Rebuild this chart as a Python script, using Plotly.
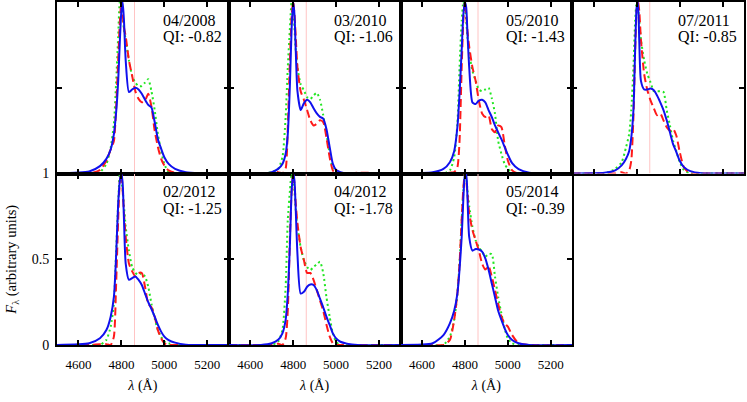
import plotly.graph_objects as go
from plotly.subplots import make_subplots

WL = [4500, 4650, 4700, 4730, 4750, 4765, 4775, 4785, 4793, 4800, 4806, 4812, 4820, 4835, 4850,
      4865, 4880, 4895, 4910, 4925, 4940, 4955, 4970, 4985, 5000, 5020, 5050, 5100, 5300]
HBETA = 4861
DATES = ["04/2008", "03/2010", "05/2010", "07/2011", "02/2012", "04/2012", "05/2014"]
QI = ["-0.82", "-1.06", "-1.43", "-0.85", "-1.25", "-1.78", "-0.39"]
X_TICKS = [4600, 4800, 5000, 5200]
Y_TICKS = [0, 0.5, 1]
Y_TICK_LABELS = ["0", "0.5", "1"]

blue_0408 = [0, 0.012, 0.043, 0.085, 0.14, 0.23, 0.35, 0.54, 0.78, 0.95, 1.0, 0.89, 0.66, 0.475, 0.49, 0.50, 0.49, 0.465, 0.43, 0.40, 0.385, 0.30, 0.20, 0.145, 0.095, 0.056, 0.027, 0.008, 0]
red_0408 = [0, 0, 0.02, 0.075, 0.14, 0.19, 0.37, 0.66, 0.89, 1.0, 0.93, 0.85, 0.80, 0.66, 0.57, 0.48, 0.435, 0.415, 0.425, 0.465, 0.39, 0.25, 0.155, 0.085, 0.047, 0.018, 0.004, 0, 0]
green_0408 = [0, 0, 0.008, 0.056, 0.15, 0.29, 0.52, 0.80, 1.0, 0.97, 0.91, 0.84, 0.78, 0.66, 0.57, 0.53, 0.51, 0.51, 0.53, 0.55, 0.48, 0.37, 0.23, 0.13, 0.056, 0.008, 0, 0, 0]

blue_0310 = [0, 0, 0.008, 0.027, 0.056, 0.115, 0.23, 0.52, 0.85, 1.0, 0.93, 0.72, 0.48, 0.37, 0.41, 0.43, 0.415, 0.38, 0.35, 0.33, 0.32, 0.26, 0.155, 0.056, 0.02, 0.008, 0, 0, 0]
red_0310 = [0, 0, 0.005, 0.008, 0, 0.03, 0.27, 0.66, 0.92, 1.0, 0.93, 0.80, 0.62, 0.48, 0.43, 0.37, 0.31, 0.28, 0.29, 0.31, 0.30, 0.21, 0.095, 0.018, 0, 0, 0, 0.004, 0]
green_0310 = [0, 0, 0.008, 0.027, 0.095, 0.33, 0.62, 0.85, 1.0, 0.97, 0.85, 0.72, 0.62, 0.52, 0.485, 0.445, 0.435, 0.455, 0.47, 0.43, 0.34, 0.23, 0.115, 0.027, 0, 0, 0, 0, 0]

blue_0510 = [0, 0.008, 0.027, 0.066, 0.13, 0.27, 0.465, 0.72, 0.93, 1.0, 0.97, 0.815, 0.62, 0.415, 0.405, 0.425, 0.43, 0.415, 0.37, 0.33, 0.28, 0.24, 0.20, 0.155, 0.11, 0.06, 0.025, 0.005, 0]
red_0510 = [0, 0, 0, 0.005, 0.008, 0.037, 0.19, 0.62, 0.9, 1.0, 0.93, 0.83, 0.74, 0.62, 0.54, 0.425, 0.35, 0.33, 0.34, 0.26, 0.24, 0.28, 0.27, 0.17, 0.076, 0.018, 0, 0, 0]
green_0510 = [0, 0, 0, 0.018, 0.095, 0.29, 0.62, 0.89, 1.0, 0.97, 0.89, 0.80, 0.70, 0.60, 0.54, 0.49, 0.48, 0.49, 0.50, 0.44, 0.35, 0.19, 0.115, 0.056, 0.027, 0.006, 0, 0, 0]

blue_0711 = [0, 0.004, 0.018, 0.047, 0.085, 0.13, 0.21, 0.37, 0.72, 0.97, 1.0, 0.78, 0.54, 0.49, 0.49, 0.495, 0.485, 0.455, 0.415, 0.37, 0.31, 0.24, 0.17, 0.125, 0.076, 0.037, 0.014, 0.002, 0]
red_0711 = [0, 0, 0, 0.008, 0, 0.018, 0.076, 0.33, 0.72, 0.95, 1.0, 0.95, 0.78, 0.58, 0.485, 0.425, 0.38, 0.34, 0.35, 0.31, 0.27, 0.25, 0.26, 0.22, 0.13, 0.037, 0, 0, 0]
green_0711 = [0, 0, 0.027, 0.066, 0.15, 0.23, 0.37, 0.62, 0.89, 1.0, 0.97, 0.89, 0.78, 0.66, 0.58, 0.53, 0.48, 0.48, 0.48, 0.475, 0.37, 0.28, 0.19, 0.13, 0.07, 0.02, 0, 0, 0]

blue_0212 = [0, 0.01, 0.039, 0.087, 0.165, 0.28, 0.51, 0.825, 0.96, 1.0, 0.94, 0.73, 0.475, 0.38, 0.39, 0.40, 0.38, 0.35, 0.30, 0.25, 0.21, 0.165, 0.117, 0.078, 0.049, 0.029, 0.014, 0.002, 0]
red_0212 = [0, 0, 0.005, 0.005, 0, 0.049, 0.34, 0.73, 0.96, 1.0, 0.90, 0.77, 0.63, 0.475, 0.43, 0.40, 0.42, 0.42, 0.34, 0.24, 0.22, 0.165, 0.087, 0.039, 0.01, 0, 0, 0, 0]
green_0212 = [0, 0, 0, 0.03, 0.107, 0.24, 0.53, 0.825, 1.0, 0.96, 0.9, 0.81, 0.69, 0.55, 0.455, 0.42, 0.41, 0.42, 0.40, 0.34, 0.24, 0.155, 0.087, 0.049, 0.02, 0.01, 0, 0, 0]

blue_0412 = [0, 0, 0.01, 0.03, 0.068, 0.146, 0.30, 0.59, 0.90, 1.0, 0.96, 0.79, 0.53, 0.30, 0.31, 0.34, 0.353, 0.35, 0.32, 0.27, 0.22, 0.165, 0.117, 0.068, 0.039, 0.019, 0.008, 0, 0]
red_0412 = [0, 0, 0, 0.008, 0, 0.039, 0.2, 0.63, 0.90, 1.0, 0.94, 0.825, 0.71, 0.57, 0.495, 0.42, 0.42, 0.38, 0.32, 0.26, 0.2, 0.12, 0.05, 0.01, 0, 0, 0, 0, 0]
green_0412 = [0, 0, 0, 0.02, 0.087, 0.34, 0.73, 0.90, 1.0, 0.98, 0.90, 0.79, 0.69, 0.57, 0.495, 0.455, 0.437, 0.455, 0.47, 0.485, 0.42, 0.28, 0.165, 0.068, 0.019, 0, 0, 0, 0]

blue_0514 = [0, 0.01, 0.058, 0.126, 0.2, 0.30, 0.44, 0.63, 0.86, 0.99, 1.0, 0.86, 0.63, 0.55, 0.56, 0.557, 0.544, 0.505, 0.44, 0.36, 0.28, 0.2, 0.146, 0.097, 0.058, 0.029, 0.01, 0, 0]
red_0514 = [0, 0, 0, 0.03, 0.146, 0.30, 0.475, 0.73, 0.92, 1.0, 0.96, 0.88, 0.77, 0.67, 0.61, 0.55, 0.475, 0.44, 0.46, 0.40, 0.32, 0.24, 0.165, 0.126, 0.107, 0.058, 0.01, 0, 0]
green_0514 = [0, 0, 0, 0.05, 0.146, 0.30, 0.475, 0.73, 0.90, 1.0, 0.98, 0.90, 0.81, 0.69, 0.61, 0.57, 0.544, 0.515, 0.53, 0.53, 0.40, 0.28, 0.184, 0.097, 0.039, 0.01, 0, 0, 0]

BLUE = [blue_0408, blue_0310, blue_0510, blue_0711, blue_0212, blue_0412, blue_0514]
RED = [red_0408, red_0310, red_0510, red_0711, red_0212, red_0412, red_0514]
GREEN = [green_0408, green_0310, green_0510, green_0711, green_0212, green_0412, green_0514]

FONT = "Liberation Serif"

fig = make_subplots(rows=2, cols=4, horizontal_spacing=0, vertical_spacing=0)

for i in range(7):
    r, c = i // 4 + 1, i % 4 + 1
    fig.add_trace(go.Scatter(x=[HBETA, HBETA], y=[0, 1], mode="lines",
                             line=dict(color="#ffc4c4", width=1), hoverinfo="skip"), row=r, col=c)
    fig.add_trace(go.Scatter(x=WL, y=GREEN[i], mode="lines", line_shape="spline",
                             line=dict(color="#22e622", width=2, dash="2px,3px", smoothing=0.6)), row=r, col=c)
    fig.add_trace(go.Scatter(x=WL, y=RED[i], mode="lines", line_shape="spline",
                             line=dict(color="#ff1a1a", width=2, dash="8px,4px", smoothing=0.6)), row=r, col=c)
    fig.add_trace(go.Scatter(x=WL, y=BLUE[i], mode="lines", line_shape="spline",
                             line=dict(color="#1010ee", width=2, smoothing=0.6)), row=r, col=c)

for k in range(1, 9):
    r = (k - 1) // 4 + 1
    c = (k - 1) % 4 + 1
    visible = k <= 7
    fig.update_xaxes(row=r, col=c, range=[4500, 5300], tickvals=X_TICKS,
                     showticklabels=(r == 2), ticks="inside", ticklen=5, tickwidth=1.5,
                     tickcolor="black", showline=True, linecolor="black", linewidth=2,
                     mirror="ticks", showgrid=False, zeroline=False, visible=visible,
                     ticklabelstandoff=6,
                     tickfont=dict(family=FONT, size=13, color="black"))
    fig.update_yaxes(row=r, col=c, range=[0, 1], tickvals=Y_TICKS, ticktext=Y_TICK_LABELS,
                     showticklabels=(k == 5), ticks="inside", ticklen=5, tickwidth=1.5,
                     tickcolor="black", showline=True, linecolor="black", linewidth=2,
                     mirror="ticks", showgrid=False, zeroline=False, visible=visible,
                     ticklabelstandoff=3,
                     tickfont=dict(family=FONT, size=14, color="black"))

for c in range(1, 4):
    fig.update_xaxes(row=2, col=c, title=dict(text="<i>λ</i> (Å)", standoff=10,
                                              font=dict(family=FONT, size=14, color="black")))
fig.update_yaxes(row=2, col=1, title=dict(text="<i>F</i><sub>λ</sub> (arbitrary units)", standoff=12,
                                          font=dict(family=FONT, size=14.5, color="black")))

for i in range(7):
    xref = "x" if i == 0 else f"x{i + 1}"
    yref = ("y" if i == 0 else f"y{i + 1}") + " domain"
    fig.add_annotation(x=4983, y=0.895, xref=xref, yref=yref, text=DATES[i], showarrow=False,
                       xanchor="left", yanchor="middle", font=dict(family=FONT, size=16, color="black"))
    fig.add_annotation(x=4983, y=0.796, xref=xref, yref=yref, text="QI: " + QI[i], showarrow=False,
                       xanchor="left", yanchor="middle", font=dict(family=FONT, size=16, color="black"))

fig.update_layout(width=747, height=402, margin=dict(l=57, r=3, t=2, b=57, autoexpand=False),
                  plot_bgcolor="white", paper_bgcolor="white", showlegend=False,
                  font=dict(family=FONT, color="black"))

fig.write_html("out.html", config={"displayModeBar": False},
               post_script="document.body.style.margin='0';document.body.style.overflow='hidden';")
